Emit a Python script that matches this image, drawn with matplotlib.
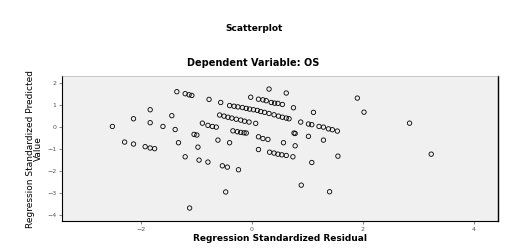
import numpy as np
import matplotlib.pyplot as plt

# residual (x) vs predicted (y)
resid = [-2.51, -2.13, -2.29, -2.13, -1.83, -1.83, -1.92, -1.83, -1.75, -1.60,
         -1.44, -1.38, -1.32, -1.35, -1.20, -1.13, -1.08, -1.20, -1.04, -0.99,
         -0.97, -0.95, -0.89, -0.79, -0.71, -0.64, -0.77, -0.79, -1.12, -0.56,
         -0.61, -0.40, -0.53, -0.44, -0.47, -0.24,
         -0.40, -0.32, -0.25, -0.17, -0.10, -0.04, 0.03, 0.10, 0.16, 0.23,
         0.31, 0.40, 0.48, 0.55, 0.62, 0.67,
         -0.58, -0.50, -0.43, -0.36, -0.28, -0.20, -0.13, -0.05, 0.07,
         0.88, 1.02, 1.08, 1.21, 1.29, 1.38, 1.45, 1.54,
         -0.34, -0.26, -0.20, -0.14, -0.10, 0.76, 0.78,
         0.12, 0.20, 0.29,
         0.12, 0.32, 0.40, 0.47, 0.54, 0.62, 0.74,
         -0.02, 0.12, 0.20, 0.26, 0.35, 0.41, 0.47, 0.55, 0.31, 0.62, 0.75, 1.11,
         1.90, 2.02, 2.84, 3.23,
         0.57, 0.78, 1.02, 1.29, 1.08, 1.55, 0.89, 1.40]
pred = [0.03, 0.38, -0.68, -0.77, 0.79, 0.20, -0.89, -0.95, -0.98, 0.03,
        0.52, -0.11, -0.71, 1.61, 1.52, 1.47, 1.44, -1.35, -0.33, -0.36,
        -0.91, -1.50, 0.18, 0.08, 0.03, 0.00, 1.26, -1.59, -3.68, 1.12,
        -0.59, -0.71, -1.76, -1.82, -2.95, -1.94,
        0.98, 0.95, 0.92, 0.89, 0.85, 0.82, 0.79, 0.76, 0.71, 0.67,
        0.62, 0.56, 0.50, 0.45, 0.41, 0.38,
        0.55, 0.50, 0.45, 0.41, 0.36, 0.32, 0.27, 0.23, 0.17,
        0.23, 0.14, 0.11, 0.03, 0.00, -0.08, -0.12, -0.18,
        -0.17, -0.21, -0.24, -0.26, -0.27, -0.27, -0.29,
        -0.44, -0.52, -0.56,
        -1.02, -1.14, -1.18, -1.23, -1.26, -1.29, -1.35,
        1.36, 1.27, 1.24, 1.20, 1.12, 1.09, 1.08, 1.03, 1.73, 1.55, 0.88, 0.67,
        1.32, 0.68, 0.18, -1.23,
        -0.71, -0.85, -0.42, -0.59, -1.61, -1.32, -2.64, -2.94]

xticks = [-2, 0, 2, 4]
yticks = [2, 1, 0, -1, -2, -3, -4]

fig = plt.figure(figsize=(5.07, 2.52), dpi=100)
ax = fig.add_axes([0.122, 0.123, 0.860, 0.575])
ax.set_facecolor('#f0f0f0')
ax.scatter(resid, pred, s=10, facecolors='none', edgecolors='black', linewidths=0.6)

ax.set_xlim(-3.42, 4.43)
ax.set_ylim(-4.27, 2.32)
ax.set_xticks(xticks)
ax.set_yticks(yticks)
ax.tick_params(labelsize=4.5, length=2, width=0.5, colors='#555555', pad=2)
for s in ['left', 'bottom']:
    ax.spines[s].set_linewidth(0.8)
ax.spines['top'].set_linewidth(0.4)
ax.spines['top'].set_color('#aaaaaa')
ax.spines['right'].set_linewidth(1.0)

fig.text(0.501, 0.885, 'Scatterplot', ha='center', va='center', fontsize=6.5, fontweight='bold')
fig.text(0.5, 0.75, 'Dependent Variable: OS', ha='center', va='center', fontsize=7, fontweight='bold')
ax.set_xlabel('Regression Standardized Residual', fontsize=6.5, fontweight='bold', labelpad=2)
ax.set_ylabel('Regression Standardized Predicted\nValue', fontsize=6.5, labelpad=3,
              family=['Liberation Sans Narrow', 'DejaVu Sans'], linespacing=0.9)

fig.savefig('out.png', dpi=100)
